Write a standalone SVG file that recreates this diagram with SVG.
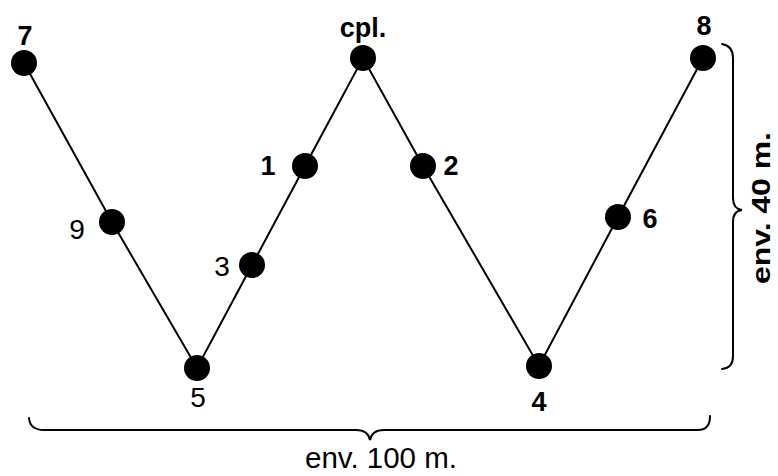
<svg xmlns="http://www.w3.org/2000/svg" width="778" height="476" viewBox="0 0 778 476">
<style>
.n{fill:#000}
.e{stroke:#000;stroke-width:2;fill:none}
.b{stroke:#000;stroke-width:2;fill:none;stroke-linecap:round}
.t{font-family:"Liberation Sans",Arial,sans-serif;font-weight:bold;font-size:27px;fill:#000;text-anchor:middle}
.r{font-family:"Liberation Sans",Arial,sans-serif;font-size:28px;fill:#000;text-anchor:middle}
.d{font-family:"Liberation Sans",Arial,sans-serif;font-size:29px;fill:#000;text-anchor:middle}
.v{font-family:"Liberation Sans",Arial,sans-serif;font-weight:bold;font-size:26px;fill:#000;text-anchor:middle}
</style>
<rect width="778" height="476" fill="#fff"/>
<g id="connectors">
<polyline class="e" points="24,63 112,222 197,368 252,265 305,166 363,58 423,166 539,366 618,217 703,58"/>
</g>
<g id="n7"><circle class="n" cx="24" cy="63" r="13"/><text class="t" x="25" y="45">7</text></g>
<g id="n9"><circle class="n" cx="112" cy="222" r="13"/><text class="r" x="77" y="239">9</text></g>
<g id="n5"><circle class="n" cx="197" cy="368" r="13"/><text class="r" x="198" y="407">5</text></g>
<g id="n3"><circle class="n" cx="252" cy="265" r="13"/><text class="r" x="222" y="276">3</text></g>
<g id="n1"><circle class="n" cx="305" cy="166" r="13"/><text class="t" x="268" y="175">1</text></g>
<g id="ncpl"><circle class="n" cx="363" cy="58" r="13"/><text class="t" x="363" y="37" font-size="30">cpl.</text></g>
<g id="n2"><circle class="n" cx="423" cy="166" r="13"/><text class="t" x="451" y="175">2</text></g>
<g id="n4"><circle class="n" cx="539" cy="366" r="13"/><text class="t" x="539" y="411">4</text></g>
<g id="n6"><circle class="n" cx="618" cy="217" r="13"/><text class="t" x="650" y="228">6</text></g>
<g id="n8"><circle class="n" cx="703" cy="58" r="13"/><text class="t" x="704" y="35">8</text></g>
<g id="brace-bottom">
<path class="b" d="M29,418 Q30,430 44,430 L356,430 Q368,430 370,440 Q372,430 384,430 L698,430 Q710,430 710,416"/>
<text class="d" x="381" y="468" textLength="152" lengthAdjust="spacingAndGlyphs">env. 100 m.</text>
</g>
<g id="brace-right">
<path class="b" d="M722,44 Q733,46 733,58 L733,198 Q733,209 742,210 Q733,211 733,222 L733,356 Q733,368 722,369"/>
<text class="v" x="0" y="0" transform="translate(770,208) rotate(-90)" textLength="152" lengthAdjust="spacingAndGlyphs">env. 40 m.</text>
</g>
</svg>
